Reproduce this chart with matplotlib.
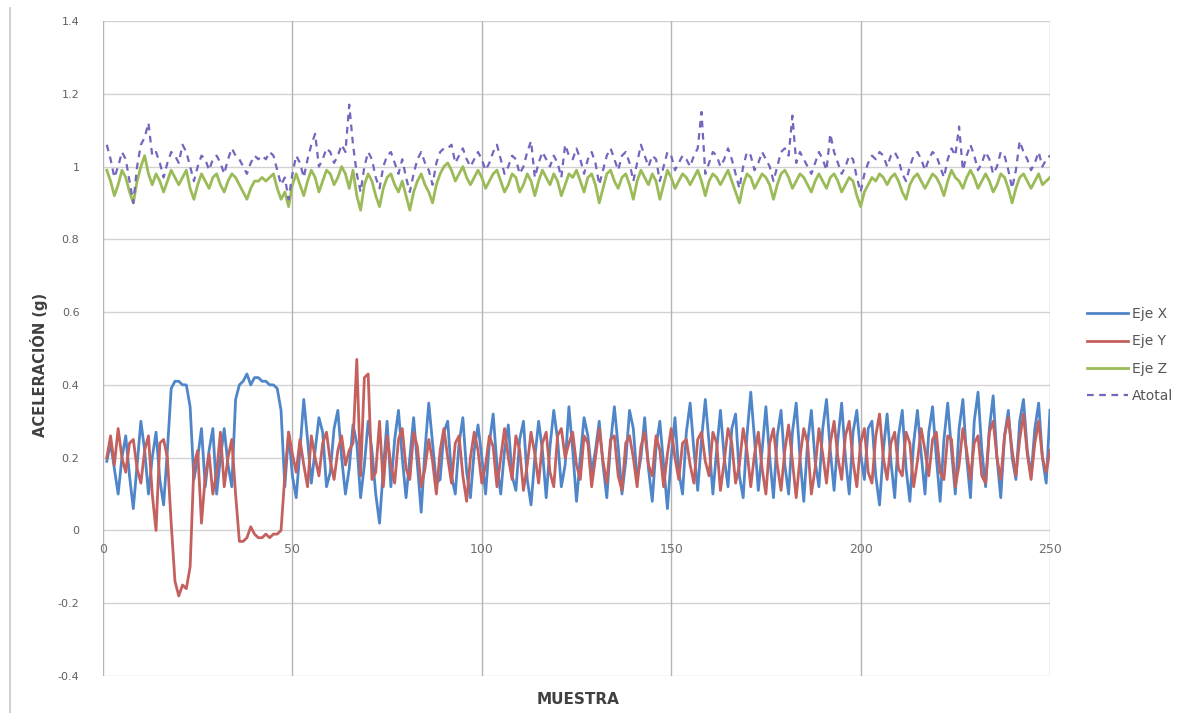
import matplotlib
matplotlib.use("Agg")
import matplotlib.pyplot as plt
from matplotlib.ticker import FixedLocator, FixedFormatter
from matplotlib.lines import Line2D

# ---------------- data ----------------
eje_x = [
    0.19, 0.24, 0.17, 0.10, 0.20, 0.26, 0.15, 0.06, 0.18, 0.30,
    0.22, 0.10, 0.20, 0.27, 0.14, 0.07, 0.22, 0.39, 0.41, 0.41,
    0.40, 0.40, 0.34, 0.14,
    0.20, 0.28, 0.12, 0.22, 0.28, 0.10, 0.20, 0.28, 0.18, 0.12,
    0.36, 0.40, 0.41, 0.43, 0.40, 0.42, 0.42, 0.41, 0.41, 0.40, 0.40, 0.39, 0.33, 0.12,
    0.27, 0.15, 0.09, 0.22, 0.36, 0.25, 0.13, 0.22, 0.31, 0.27,
    0.12, 0.16, 0.28, 0.33, 0.20, 0.10, 0.17, 0.29, 0.24, 0.09,
    0.18, 0.30, 0.22, 0.10, 0.02, 0.17, 0.30,
    0.12, 0.25, 0.33, 0.20, 0.09, 0.20, 0.31, 0.18, 0.05, 0.22,
    0.35, 0.24, 0.13, 0.14, 0.27, 0.30, 0.15, 0.10, 0.24, 0.31,
    0.16, 0.09, 0.22, 0.29, 0.20, 0.10, 0.24, 0.32, 0.18, 0.10,
    0.22, 0.29, 0.15, 0.11, 0.25, 0.30, 0.14, 0.07, 0.20, 0.30,
    0.22, 0.09, 0.23, 0.33, 0.25, 0.12, 0.18, 0.34, 0.22, 0.08,
    0.20, 0.31, 0.26, 0.16, 0.22, 0.30, 0.18, 0.09, 0.24, 0.34,
    0.23, 0.10, 0.19, 0.33, 0.28, 0.14, 0.20, 0.31, 0.17, 0.08,
    0.23, 0.30, 0.18, 0.06, 0.20, 0.31, 0.16, 0.10, 0.27, 0.35,
    0.22, 0.11, 0.25, 0.36, 0.24, 0.10, 0.22, 0.33, 0.20, 0.12,
    0.28, 0.32, 0.15, 0.09, 0.26, 0.38, 0.25, 0.11, 0.22, 0.34,
    0.20, 0.09, 0.26, 0.33, 0.18, 0.10, 0.27, 0.35, 0.20, 0.08,
    0.24, 0.33, 0.19, 0.12, 0.28, 0.36, 0.22, 0.11, 0.25, 0.35,
    0.20, 0.10, 0.27, 0.33, 0.21, 0.14, 0.28, 0.30, 0.15, 0.07,
    0.22, 0.32, 0.19, 0.09, 0.26, 0.33, 0.17, 0.08, 0.24, 0.33,
    0.21, 0.10, 0.27, 0.34, 0.20, 0.08, 0.25, 0.35, 0.22, 0.10,
    0.28, 0.36, 0.20, 0.09, 0.30, 0.38, 0.22, 0.12, 0.28, 0.37,
    0.20, 0.09, 0.26, 0.33, 0.20, 0.14, 0.30, 0.36, 0.22, 0.15,
    0.28, 0.35, 0.20, 0.13, 0.33,
]

eje_y = [
    0.20, 0.26, 0.18, 0.28, 0.20, 0.16, 0.24, 0.25, 0.17, 0.13,
    0.22, 0.26, 0.10, 0.00, 0.24, 0.25, 0.20, 0.02, -0.14, -0.18,
    -0.15, -0.16, -0.10, 0.18,
    0.22, 0.02, 0.15, 0.21, 0.10, 0.16, 0.27, 0.12, 0.20, 0.25,
    0.10, -0.03, -0.03, -0.02, 0.01, -0.01, -0.02, -0.02, -0.01, -0.02, -0.01, -0.01, 0.00, 0.15,
    0.27, 0.21, 0.16, 0.25, 0.18, 0.12, 0.26, 0.20, 0.15, 0.24,
    0.27, 0.19, 0.14, 0.22, 0.26, 0.18, 0.22, 0.24, 0.47, 0.15,
    0.42, 0.43, 0.14, 0.16, 0.30, 0.12, 0.26,
    0.18, 0.13, 0.25, 0.28, 0.17, 0.14, 0.27, 0.23, 0.12, 0.17,
    0.25, 0.19, 0.10, 0.22, 0.28, 0.20, 0.13, 0.24, 0.26, 0.15,
    0.08, 0.20, 0.27, 0.22, 0.13, 0.18, 0.26, 0.23, 0.12, 0.20,
    0.28, 0.20, 0.14, 0.26, 0.22, 0.11, 0.18, 0.27, 0.21, 0.13,
    0.24, 0.27, 0.16, 0.12, 0.26, 0.28, 0.20, 0.24, 0.27, 0.18,
    0.14, 0.26, 0.24, 0.12, 0.20, 0.28, 0.19, 0.13, 0.25, 0.26,
    0.15, 0.11, 0.24, 0.26, 0.20, 0.12, 0.23, 0.27, 0.18, 0.15,
    0.26, 0.22, 0.12, 0.21, 0.28, 0.20, 0.14, 0.24, 0.25, 0.18,
    0.13, 0.25, 0.27, 0.19, 0.15, 0.27, 0.24, 0.11, 0.19, 0.28,
    0.24, 0.13, 0.18, 0.28, 0.22, 0.12, 0.21, 0.27, 0.17, 0.10,
    0.24, 0.28, 0.18, 0.11, 0.22, 0.29, 0.19, 0.09, 0.20, 0.28,
    0.24, 0.10, 0.17, 0.28, 0.21, 0.13, 0.24, 0.30, 0.20, 0.14,
    0.26, 0.30, 0.19, 0.12, 0.24, 0.28, 0.16, 0.13, 0.26, 0.32,
    0.20, 0.14, 0.24, 0.27, 0.17, 0.15, 0.27, 0.24, 0.12, 0.19,
    0.28, 0.22, 0.15, 0.25, 0.27, 0.16, 0.14, 0.26, 0.25, 0.12,
    0.18, 0.28, 0.22, 0.14, 0.24, 0.26, 0.15, 0.13, 0.27, 0.30,
    0.20, 0.14, 0.26, 0.31, 0.22, 0.15, 0.25, 0.32, 0.21, 0.14,
    0.24, 0.30, 0.20, 0.16, 0.22,
]

eje_z = [
    0.99, 0.96, 0.92, 0.95, 0.99, 0.97, 0.93, 0.90, 0.96, 1.00,
    1.03, 0.98, 0.95, 0.98, 0.96, 0.93, 0.96, 0.99, 0.97, 0.95,
    0.97, 0.99, 0.94, 0.91, 0.95, 0.98, 0.96, 0.94, 0.97, 0.98,
    0.95, 0.93, 0.96, 0.98, 0.97, 0.95, 0.93, 0.91, 0.94, 0.96,
    0.96, 0.97, 0.96, 0.97, 0.98, 0.94, 0.91, 0.93, 0.89, 0.95,
    0.98, 0.95, 0.92, 0.96, 0.99, 0.97, 0.93, 0.96, 0.99, 0.98,
    0.95, 0.97, 1.00, 0.98, 0.94, 0.99, 0.92, 0.88, 0.95, 0.98,
    0.96, 0.92, 0.89, 0.94, 0.97, 0.98, 0.95, 0.93, 0.96, 0.92,
    0.88, 0.93, 0.96, 0.98, 0.95, 0.93, 0.90, 0.95, 0.98, 1.00,
    1.01, 0.99, 0.96, 0.98, 1.00, 0.97, 0.95, 0.97, 0.99, 0.97,
    0.94, 0.96, 0.98, 0.99, 0.96, 0.93, 0.95, 0.98, 0.97, 0.93,
    0.95, 0.98, 0.96, 0.92, 0.96, 0.99, 0.97, 0.95, 0.98, 0.96,
    0.92, 0.95, 0.98, 0.97, 0.99, 0.96, 0.93, 0.97, 0.98, 0.95,
    0.90, 0.94, 0.98, 0.99, 0.96, 0.94, 0.97, 0.98, 0.95, 0.91,
    0.96, 0.99, 0.97, 0.95, 0.98, 0.96, 0.91, 0.95, 0.99, 0.97,
    0.94, 0.96, 0.98, 0.97, 0.95, 0.97, 0.99, 0.96, 0.92, 0.96,
    0.98, 0.97, 0.95, 0.97, 0.99, 0.96, 0.93, 0.90, 0.95, 0.98,
    0.97, 0.94, 0.96, 0.98, 0.97, 0.95, 0.91, 0.95, 0.98, 0.99,
    0.97, 0.94, 0.96, 0.98, 0.97, 0.95, 0.93, 0.96, 0.98, 0.96,
    0.94, 0.97, 0.98, 0.96, 0.93, 0.95, 0.97, 0.96, 0.92, 0.89,
    0.93, 0.95, 0.97, 0.96, 0.98, 0.97, 0.95, 0.97, 0.98, 0.96,
    0.93, 0.91, 0.95, 0.97, 0.98, 0.96, 0.94, 0.96, 0.98, 0.97,
    0.95, 0.92, 0.96, 0.99, 0.97, 0.96, 0.94, 0.97, 0.99, 0.97,
    0.94, 0.96, 0.98, 0.96, 0.93, 0.95, 0.98, 0.97, 0.94, 0.90,
    0.94, 0.97, 0.98, 0.96, 0.94, 0.96, 0.98, 0.95, 0.96, 0.97,
]

atotal = [
    1.06, 1.02, 0.97, 1.00, 1.04, 1.02, 0.96, 0.90, 1.00, 1.06,
    1.08, 1.12, 1.03, 1.04, 1.01, 0.97, 1.01, 1.04, 1.03, 1.01,
    1.06, 1.04, 1.00, 0.96, 1.00, 1.03, 1.02, 0.99, 1.02, 1.03,
    1.01, 0.98, 1.02, 1.05, 1.03, 1.02, 1.00, 0.98, 1.01, 1.03,
    1.02, 1.03, 1.02, 1.04, 1.03, 0.99, 0.95, 0.97, 0.91, 0.98,
    1.03, 1.01, 0.97, 1.02, 1.06, 1.09, 1.00, 1.02, 1.05, 1.04,
    1.01, 1.03, 1.06, 1.04, 1.17, 1.06, 0.98, 0.93, 1.00, 1.04,
    1.02, 0.97, 0.94, 1.00, 1.03, 1.04, 1.01, 0.98, 1.02, 0.97,
    0.93, 0.98, 1.02, 1.04, 1.01, 0.99, 0.95, 1.01, 1.04, 1.05,
    1.05, 1.06, 1.01, 1.03, 1.05, 1.02, 1.00, 1.02, 1.04, 1.02,
    0.99, 1.01, 1.04, 1.06, 1.02, 0.98, 1.00, 1.03, 1.02, 0.98,
    1.00, 1.04, 1.07, 0.97, 1.01, 1.04, 1.02, 1.00, 1.03, 1.01,
    0.97, 1.06, 1.03, 1.02, 1.05, 1.02, 0.98, 1.02, 1.04, 1.01,
    0.95, 0.99, 1.03, 1.05, 1.02, 0.99, 1.03, 1.04, 1.01, 0.96,
    1.01, 1.06, 1.03, 1.00, 1.03, 1.02, 0.96, 1.00, 1.04, 1.03,
    0.99, 1.01, 1.03, 1.02, 1.00, 1.03, 1.05, 1.15, 0.98, 1.01,
    1.04, 1.03, 1.00, 1.02, 1.05, 1.02, 0.98, 0.94, 1.00, 1.04,
    1.03, 0.99, 1.01, 1.04, 1.02, 1.00, 0.96, 1.00, 1.04, 1.05,
    1.03, 1.14, 1.01, 1.04, 1.02, 1.00, 0.98, 1.01, 1.04, 1.02,
    0.99, 1.09, 1.04, 1.01, 0.98, 1.00, 1.03, 1.02, 0.97, 0.93,
    0.98, 1.01, 1.03, 1.02, 1.04, 1.03, 1.00, 1.03, 1.04, 1.02,
    0.98, 0.96, 1.00, 1.03, 1.04, 1.02, 0.99, 1.02, 1.04, 1.03,
    1.00, 0.97, 1.02, 1.05, 1.03, 1.11, 0.99, 1.03, 1.06, 1.03,
    0.99, 1.01, 1.04, 1.02, 0.98, 1.00, 1.04, 1.03, 0.99, 0.94,
    0.99, 1.07, 1.04, 1.02, 0.99, 1.01, 1.04, 1.00, 1.02, 1.03,
]

series_labels = ["Eje X", "Eje Y", "Eje Z", "Atotal"]
x_ticks = [0, 50, 100, 150, 200, 250]
y_ticks = [-0.4, -0.2, 0, 0.2, 0.4, 0.6, 0.8, 1.0, 1.2, 1.4]
y_tick_labels = ["-0.4", "-0.2", "0", "0.2", "0.4", "0.6", "0.8", "1", "1.2", "1.4"]

# ---------------- figure ----------------
W, H = 1186, 713
fig = plt.figure(figsize=(W / 100, H / 100), dpi=100)
fig.patch.set_facecolor("white")
ax = fig.add_axes([103 / W, 1 - 676 / H, (1050 - 103) / W, (676 - 21) / H])

c_x = "#4f86c9"
c_y = "#c4605d"
c_z = "#9bbb59"
c_t = "#7366bd"

def idx(series):
    return list(range(1, len(series) + 1))

ax.plot(idx(eje_x), eje_x, color=c_x, lw=2.0, label=series_labels[0], zorder=3)
ax.plot(idx(eje_y), eje_y, color=c_y, lw=2.0, label=series_labels[1], zorder=3)
ax.plot(idx(eje_z), eje_z, color=c_z, lw=2.0, label=series_labels[2], zorder=3)
ax.plot(idx(atotal), atotal, color=c_t, lw=1.6, ls=(0, (3, 2.5)),
        label=series_labels[3], zorder=4)

ax.set_xlim(0, 250)
ax.set_ylim(-0.4, 1.4)

ax.yaxis.set_major_locator(FixedLocator(y_ticks))
ax.yaxis.set_major_formatter(FixedFormatter(y_tick_labels))
ax.xaxis.set_major_locator(FixedLocator(x_ticks))

# grid
for yv in y_ticks:
    ax.axhline(yv, color="#d2d2d2", lw=1.0, zorder=1)
for xv in x_ticks:
    ax.axvline(xv, color="#b4b4b4", lw=1.0, zorder=1)

for s in ax.spines.values():
    s.set_visible(False)
# x axis crosses at y = 0 (Excel style)
ax.spines["bottom"].set_position(("data", 0))

ax.tick_params(axis="y", length=0, pad=17, labelsize=8, labelcolor="#606060")
ax.tick_params(axis="x", length=0, pad=9, labelsize=9, labelcolor="#707070")

ax.set_xlabel("MUESTRA", fontsize=11, fontweight="bold", color="#404040")
ax.xaxis.set_label_coords(0.502, -0.024)
ax.set_ylabel("ACELERACIÓN (g)", fontsize=10.5, fontweight="bold", color="#404040")
ax.yaxis.set_label_coords(-0.058, 0.475)

leg = fig.legend(loc="center left", bbox_to_anchor=(1074 / W, 1 - 355 / H),
                 frameon=False, fontsize=10, handlelength=3.0,
                 labelspacing=0.95, handletextpad=0.3)
for t in leg.get_texts():
    t.set_color("#555555")

# faint scan border at the left edge
fig.add_artist(Line2D([10 / W, 10 / W], [0, 1 - 8 / H], transform=fig.transFigure,
                      color="#c8c8c8", lw=1.2))

fig.savefig("out.png", dpi=100, facecolor="white")
